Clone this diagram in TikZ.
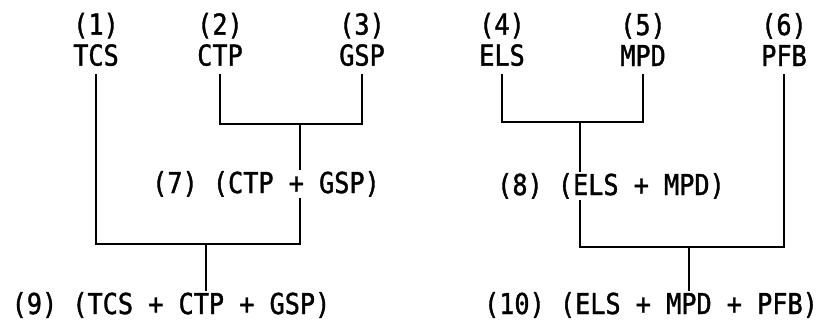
\documentclass[tikz,border=0pt]{standalone}
\usepackage{fontspec}
\newfontfamily\typefont[FakeStretch=0.875, FakeBold=1.3]{DejaVu Sans Mono}

\begin{document}
\begin{tikzpicture}[x=0.5pt, y=-0.5pt, line width=1pt,
    leaf/.style={align=center, anchor=south, inner xsep=2pt, inner ysep=3.5pt,
        font=\typefont\fontsize{14.4}{15.5}\selectfont},
    combo/.style={anchor=base, inner xsep=0pt, inner ysep=0pt,
        font=\typefont\fontsize{14.4}{15.5}\selectfont}]

    \useasboundingbox (0,0) rectangle (823,323);

    % single subsystems
    \node[leaf] (tcs) at (96,74) {(1)\\TCS};
    \node[leaf] (ctp) at (220,74) {(2)\\CTP};
    \node[leaf] (gsp) at (362,74) {(3)\\GSP};
    \node[leaf] (els) at (502,74) {(4)\\ELS};
    \node[leaf] (mpd) at (643,74) {(5)\\MPD};
    \node[leaf] (pfb) at (784,74) {(6)\\PFB};

    % combinations
    \node[combo] (ctpgsp) at (266,193) {(7) (CTP + GSP)};
    \node[combo] (elsmpd) at (611,195) {(8) (ELS + MPD)};
    \node[combo] (leftall) at (171,314) {(9) (TCS + CTP + GSP)};
    \node[combo] (rightall) at (651,314) {(10) (ELS + MPD + PFB)};

    \coordinate (j7) at (300,124);
    \coordinate (j8) at (580,122);
    \coordinate (j9) at (206,244);
    \coordinate (j10) at (689,247);

    \draw (ctp) |- (j7) -| (gsp);
    \draw (j7) -- (j7 |- ctpgsp.north);
    \draw (tcs) |- (j9) -| (j7 |- ctpgsp.south);
    \draw (j9) -- (j9 |- leftall.north);

    \draw (els) |- (j8) -| (mpd);
    \draw (j8) -- (j8 |- elsmpd.north);
    \draw (j8 |- elsmpd.south) |- (j10) -| (pfb);
    \draw (j10) -- (j10 |- rightall.north);

\end{tikzpicture}
\end{document}
